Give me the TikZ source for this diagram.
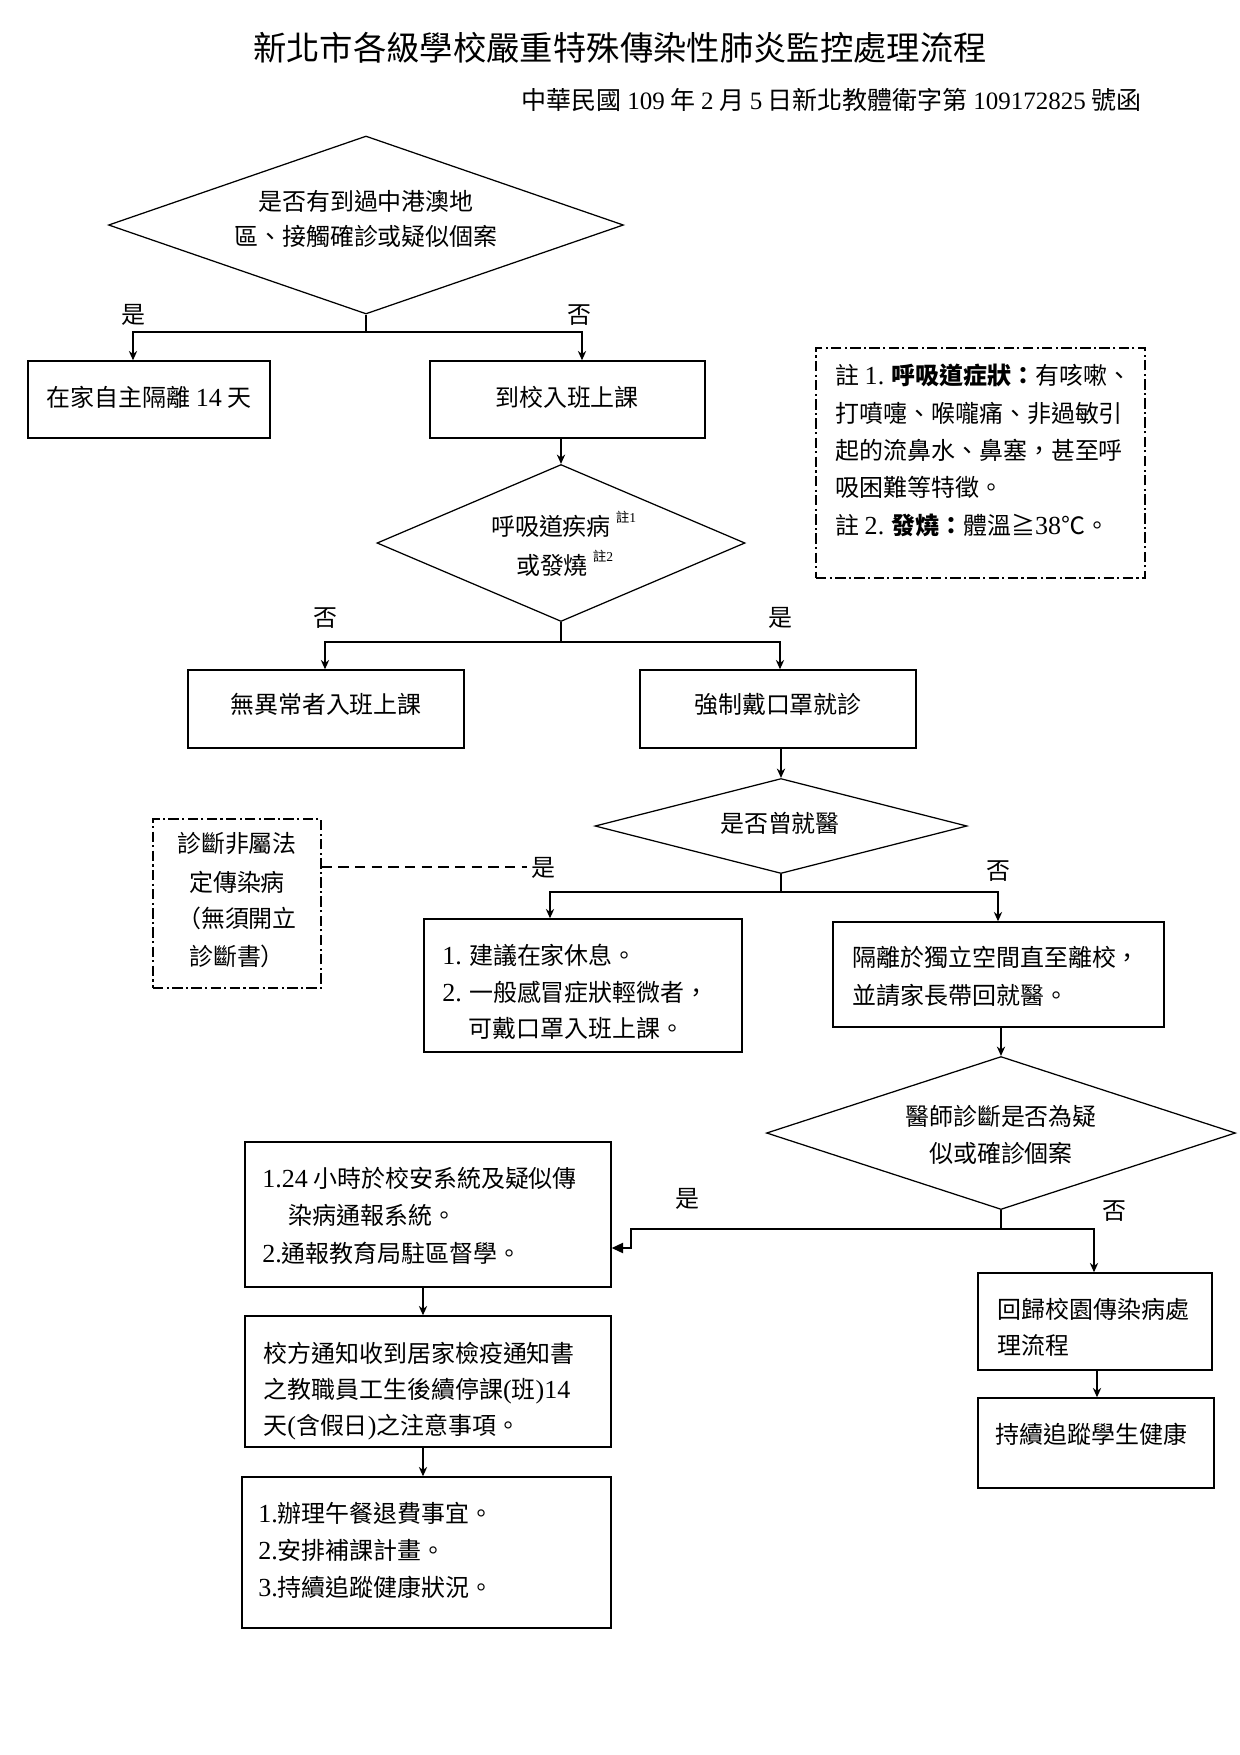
\documentclass[tikz,border=0pt]{standalone}
\usepackage{fontspec}
\setmainfont{Noto Sans CJK TC}
\newfontfamily\latn{Liberation Serif}
\usetikzlibrary{shapes.geometric,arrows.meta,fit}
\begin{document}
\begin{tikzpicture}[x=0.48pt,y=-0.48pt,
  box/.style={draw, line width=0.7pt, inner sep=0pt},
  nbox/.style={box, dash pattern=on 5pt off 1.6pt on 1pt off 1.6pt},
  dia/.style={draw, diamond, line width=0.6pt, inner sep=0pt},
  ln/.style={anchor=west, inner sep=0pt, text height=0.88em, text depth=0.12em, font=\fontsize{11.5}{12}\selectfont},
  ct/.style={ln, anchor=center},
  supn/.style={anchor=west, inner sep=0pt, font=\fontsize{6.5}{7}\selectfont},
  con/.style={line width=0.6pt},
  arr/.style={con, -{Stealth[length=4.5pt,width=4pt]}}]
\fill[white] (0,0) rectangle (1240,1755);
\useasboundingbox (0,0) rectangle (1240,1755);

% title
\node[inner sep=0pt, text height=0.88em, text depth=0.12em, font=\fontsize{16}{16}\selectfont] (title) at (620,53) {新北市各級學校嚴重特殊傳染性肺炎監控處理流程};
\node[anchor=east, inner sep=0pt, text height=0.88em, text depth=0.12em, font=\fontsize{12}{12}\selectfont] (sub) at (1142,102) {中華民國 {\latn 109} 年 {\latn 2} 月 {\latn 5} 日新北教體衛字第 {\latn 109172825} 號函};

% diamonds
\node[dia, minimum width=515*0.48pt, minimum height=178*0.48pt] (D1) at (366,225) {};
\node[dia, minimum width=368*0.48pt, minimum height=157*0.48pt] (D2) at (561,543) {};
\node[dia, minimum width=372*0.48pt, minimum height=95*0.48pt] (D3) at (781,826) {};
\node[dia, minimum width=469*0.48pt, minimum height=153*0.48pt] (D4) at (1001,1133) {};

\node[ct] (d1a) at (366,203) {是否有到過中港澳地};
\node[ct] (d1b) at (366,238) {區、接觸確診或疑似個案};
\node[ct] (d2a) at (551,528) {呼吸道疾病};
\node[supn] (d2as) at ([xshift=2pt]d2a.north east) {註{\latn 1}};
\node[ct] (d2b) at (552,567) {或發燒};
\node[supn] (d2bs) at ([xshift=2pt]d2b.north east) {註{\latn 2}};
\node[ct] (d3a) at (780,825) {是否曾就醫};
\node[ct] (d4a) at (1001,1118) {醫師診斷是否為疑};
\node[ct] (d4b) at (1001,1155) {似或確診個案};

% boxes
\node[box, fit={(28,361)(270,438)}] (A) {};
\node[ct] (ta) at (149,399) {在家自主隔離 {\latn\fontsize{12.5}{13}\selectfont 14} 天};
\node[box, fit={(430,361)(705,438)}] (B) {};
\node[ct] (tb) at (567,399) {到校入班上課};

\node[nbox, fit={(816,348)(1145,578)}] (N) {};
\node[ln] (n1) at (835,377) {註 {\latn\fontsize{12.5}{13}\selectfont 1.} {\bfseries 呼吸道症狀：}有咳嗽、};
\node[ln] (n2) at (835,415) {打噴嚏、喉嚨痛、非過敏引};
\node[ln] (n3) at (835,452) {起的流鼻水、鼻塞，甚至呼};
\node[ln] (n4) at (835,489) {吸困難等特徵。};
\node[ln] (n5) at (835,527) {註 {\latn\fontsize{12.5}{13}\selectfont 2.} {\bfseries 發燒：}體溫≧{\latn\fontsize{12.5}{13}\selectfont 38}℃。};

\node[box, fit={(188,670)(464,748)}] (C) {};
\node[ct] (tc) at (326,706) {無異常者入班上課};
\node[box, fit={(640,670)(916,748)}] (D) {};
\node[ct] (td) at (778,706) {強制戴口罩就診};

\node[nbox, fit={(153,819)(321,988)}] (E) {};
\node[ct] (e1) at (237,845) {診斷非屬法};
\node[ct] (e2) at (237,884) {定傳染病};
\node[ct] (e3) at (237,920) {（無須開立};
\node[ct] (e4) at (237,958) {診斷書）};

\node[box, fit={(424,919)(742,1052)}] (F) {};
\node[ln] (f1) at (442,957) {{\latn\fontsize{12.5}{13}\selectfont 1.} 建議在家休息。};
\node[ln] (f2) at (442,994) {{\latn\fontsize{12.5}{13}\selectfont 2.} 一般感冒症狀輕微者，};
\node[ln] (f3) at (468,1030) {可戴口罩入班上課。};

\node[box, fit={(833,922)(1164,1027)}] (G) {};
\node[ln] (g1) at (852,959) {隔離於獨立空間直至離校，};
\node[ln] (g2) at (852,997) {並請家長帶回就醫。};

\node[box, fit={(245,1142)(611,1287)}] (H) {};
\node[ln] (h1) at (262,1180) {{\latn\fontsize{12.5}{13}\selectfont 1.24} 小時於校安系統及疑似傳};
\node[ln] (h2) at (288,1217) {染病通報系統。};
\node[ln] (h3) at (262,1255) {{\latn\fontsize{12.5}{13}\selectfont 2.}通報教育局駐區督學。};

\node[box, fit={(245,1316)(611,1447)}] (J) {};
\node[ln] (j1t) at (263,1355) {校方通知收到居家檢疫通知書};
\node[ln] (j2t) at (263,1391) {之教職員工生後續停課{\latn\fontsize{12.5}{13}\selectfont (}班{\latn\fontsize{12.5}{13}\selectfont )14}};
\node[ln] (j3t) at (263,1427) {天{\latn\fontsize{12.5}{13}\selectfont (}含假日{\latn\fontsize{12.5}{13}\selectfont )}之注意事項。};

\node[box, fit={(242,1477)(611,1628)}] (K) {};
\node[ln] (k1) at (258,1515) {{\latn\fontsize{12.5}{13}\selectfont 1.}辦理午餐退費事宜。};
\node[ln] (k2) at (258,1552) {{\latn\fontsize{12.5}{13}\selectfont 2.}安排補課計畫。};
\node[ln] (k3) at (258,1589) {{\latn\fontsize{12.5}{13}\selectfont 3.}持續追蹤健康狀況。};

\node[box, fit={(978,1273)(1212,1370)}] (I) {};
\node[ln] (i1) at (997,1311) {回歸校園傳染病處};
\node[ln] (i2) at (997,1347) {理流程};
\node[box, fit={(978,1398)(1214,1488)}] (L) {};
\node[ln] (l1) at (995,1436) {持續追蹤學生健康};

% connectors
\coordinate (j1) at (366,332);
\draw[con] (D1.south) -- (j1);
\draw[arr] (j1) -| (A.north -| 133,0);
\draw[arr] (j1) -| (B.north -| 582,0);
\node[ct] (l1y) at (133,316) {是};
\node[ct] (l1n) at (579,316) {否};

\draw[arr] (B.south -| D2.north) -- (D2.north);
\coordinate (j2) at (561,642);
\draw[con] (D2.south) -- (j2);
\draw[arr] (j2) -| (C.north -| 325,0);
\draw[arr] (j2) -| (D.north -| 780,0);
\node[ct] (l2n) at (325,619) {否};
\node[ct] (l2y) at (780,619) {是};

\draw[arr] (D.south -| D3.north) -- (D3.north);
\coordinate (j3) at (781,892);
\draw[con] (D3.south) -- (j3);
\draw[arr] (j3) -| (F.north -| 550,0);
\draw[arr] (j3) -| (G.north -| 998,0);
\node[ct] (l3y) at (543,869) {是};
\node[ct] (l3n) at (998,872) {否};
\coordinate (dl) at (527,867);
\draw[con, dash pattern=on 5pt off 3pt] (E.east |- dl) -- (dl);

\draw[arr] (G.south -| D4.north) -- (D4.north);
\coordinate (j4) at (1001,1229);
\draw[con] (D4.south) -- (j4);
\draw[arr] (j4) -| (I.north -| 1094,0);
\coordinate (k4) at (631,1229);
\coordinate (k5) at (631,1248);
\draw[con, -{Triangle[length=5.5pt,width=5pt]}] (j4) -- (k4) -- (k5) -- (H.east |- k5);
\draw[line width=1.2pt] (k4) -- (648,1229);
\node[ct] (l4y) at (687,1200) {是};
\node[ct] (l4n) at (1114,1212) {否};

\draw[arr] (I.south -| 1097,0) -- (L.north -| 1097,0);
\draw[arr] (H.south -| 423,0) -- (J.north -| 423,0);
\draw[arr] (J.south -| 423,0) -- (K.north -| 423,0);
\end{tikzpicture}
\end{document}
